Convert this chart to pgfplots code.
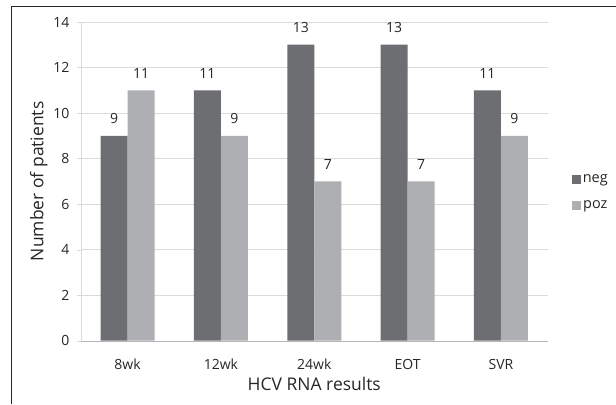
\documentclass[border=0pt]{standalone}
\usepackage{pgfplots}
\pgfplotsset{compat=1.18}
\usepackage{fontspec}
\setmainfont{Open Sans}
\definecolor{negc}{HTML}{6D6E71}
\definecolor{pozc}{HTML}{ADAFB2}
\definecolor{gridc}{HTML}{DADADA}

\begin{document}
\begin{tikzpicture}
\path (0pt,0pt) rectangle (616pt,404pt);
\draw[line width=0.9pt,black!85] (11.5pt,0pt) -- (11.5pt,397.5pt) -- (616pt,397.5pt);
\begin{axis}[
  at={(81pt,63pt)}, anchor=south west,
  scale only axis, width=467pt, height=319pt,
  ybar=0pt, bar width=27pt,
  xmin=-0.5, xmax=4.5, ymin=0, ymax=14,
  xtick={0,...,4}, xticklabels={8wk,12wk,24wk,EOT,SVR},
  extra x ticks={-0.5,0.5,1.5,2.5,3.5,4.5}, extra x tick labels={},
  extra x tick style={major tick length=5pt, tick style={draw=gridc}},
  ytick={0,2,...,14},
  tick align=outside, major tick length=4pt,
  xtick style={draw=none}, ytick style={draw=gridc},
  ymajorgrids, grid style={gridc},
  axis x line*=bottom, axis y line*=left,
  x axis line style={draw=gridc!60!gray, -}, y axis line style={draw=gridc, -},
  tick label style={font=\fontsize{14}{14}\selectfont, text=black!85},
  /pgf/number format/assume math mode=true,
  xticklabel style={yshift=-11pt},
  yticklabel style={xshift=-4pt},
  xlabel={HCV RNA results}, ylabel={Number of patients},
  label style={font=\fontsize{17.5}{17.5}\selectfont, text=black!85},
  xlabel style={yshift=9pt},
  ylabel style={yshift=-1pt},
  nodes near coords,
  nodes near coords style={font=\fontsize{14}{14}\selectfont, text=black!85, anchor=south, yshift=8.5pt},
  legend style={at={(1.045,0.465)}, anchor=west, draw=none, fill=none,
    font=\fontsize{14.5}{14.5}\selectfont, text=black!85, row sep=13pt,
    /tikz/every even column/.append style={column sep=2pt}},
  legend image code/.code={\fill[#1] (0pt,-4.5pt) rectangle (9pt,4.5pt);},
]
\addplot[fill=negc, draw=none] coordinates {(0,9) (1,11) (2,13) (3,13) (4,11)};
\addlegendentry{neg}
\addplot[fill=pozc, draw=none] coordinates {(0,11) (1,9) (2,7) (3,7) (4,9)};
\addlegendentry{poz}
\end{axis}
\end{tikzpicture}
\end{document}
